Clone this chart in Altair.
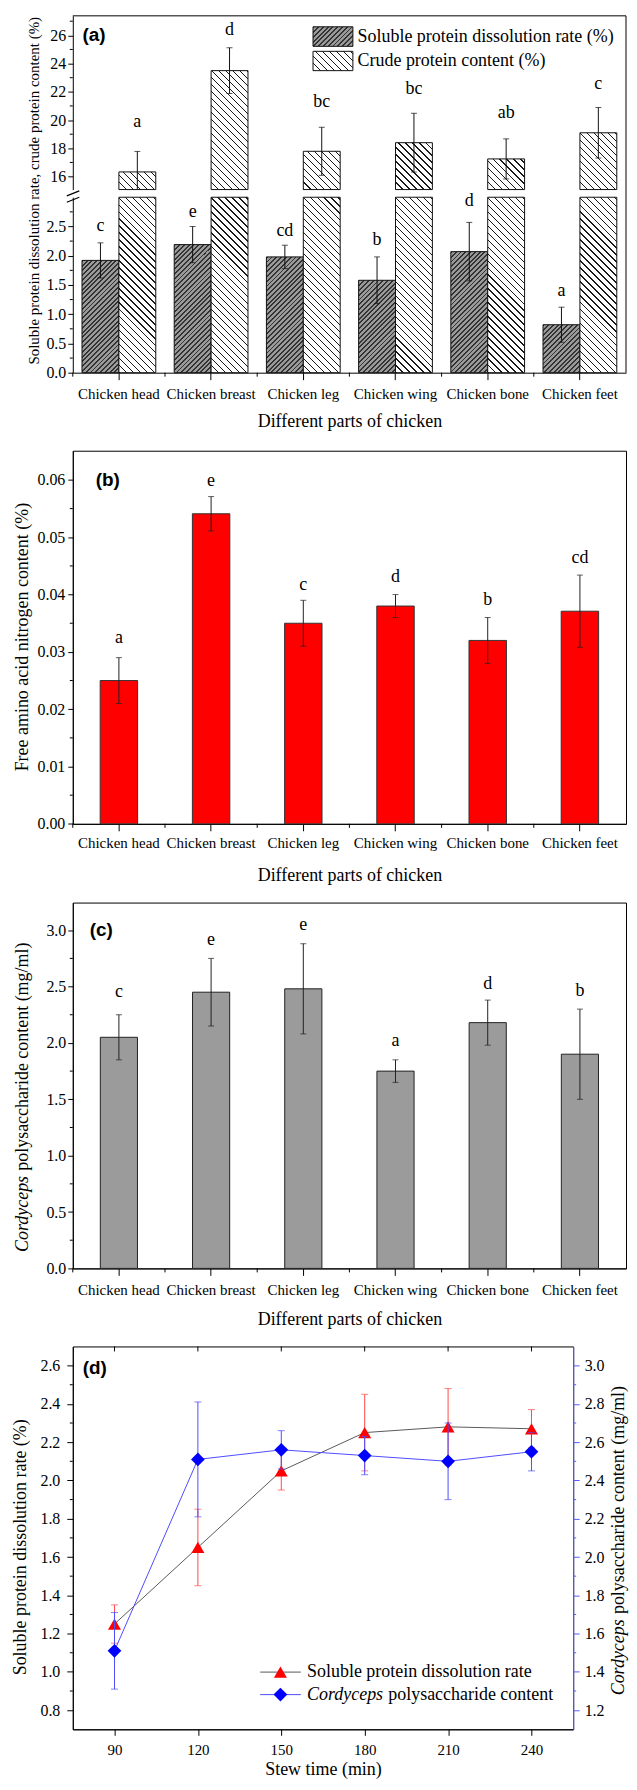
import altair as alt
import pandas as pd

SERIF = "Liberation Serif"
SANS = "Liberation Sans"

# ---------------- data ----------------
parts = ["Chicken head", "Chicken breast", "Chicken leg", "Chicken wing", "Chicken bone", "Chicken feet"]

# (a)
soluble_rate = [1.92, 2.19, 1.98, 1.58, 2.07, 0.82]
soluble_err = [0.30, 0.31, 0.20, 0.40, 0.50, 0.30]
soluble_letters = ["c", "e", "cd", "b", "d", "a"]
soluble_letter_y = [2.50, 2.74, 2.42, 2.27, 2.93, 1.40]
crude_protein = [16.33, 23.50, 17.79, 18.40, 17.25, 19.10]
crude_err = [1.45, 1.62, 1.70, 2.08, 1.42, 1.79]
crude_letters = ["a", "d", "bc", "bc", "ab", "c"]
crude_letter_y = [19.88, 26.37, 21.29, 22.21, 20.52, 22.56]
legend_a = ["Soluble protein dissolution rate (%)", "Crude protein content (%)"]

# (b)
faan = [0.0250, 0.0541, 0.0350, 0.0380, 0.0320, 0.0371]
faan_err = [0.0040, 0.0030, 0.0040, 0.0020, 0.0040, 0.0063]
faan_letters = ["a", "e", "c", "d", "b", "cd"]
faan_letter_y = [0.0324, 0.0598, 0.0417, 0.0431, 0.0391, 0.0464]

# (c)
cps_parts = [2.05, 2.45, 2.48, 1.75, 2.18, 1.90]
cps_parts_err = [0.20, 0.30, 0.40, 0.10, 0.20, 0.40]
cps_letters = ["c", "e", "e", "a", "d", "b"]
cps_letter_y = [2.45, 2.91, 3.05, 2.02, 2.52, 2.46]
cord_title = ["Cordyceps", "polysaccharide content (mg/ml)"]

# (d)
stew_time = [90, 120, 150, 180, 210, 240]
spd_time = [1.25, 1.65, 2.05, 2.25, 2.28, 2.27]
spd_time_err = [0.10, 0.20, 0.10, 0.20, 0.20, 0.10]
cps_time = [1.51, 2.51, 2.56, 2.53, 2.50, 2.55]
cps_time_err = [0.20, 0.30, 0.10, 0.10, 0.20, 0.10]
legend_d = ["Soluble protein dissolution rate", "Cordyceps", "polysaccharide content"]

# tick values
a_upper_ticks = [16, 18, 20, 22, 24, 26]
a_upper_minor = [17, 19, 21, 23, 25, 27]
a_lower_ticks = [0.0, 0.5, 1.0, 1.5, 2.0, 2.5]
a_lower_minor = [0.25, 0.75, 1.25, 1.75, 2.25, 2.75]
b_ticks = [0.0, 0.01, 0.02, 0.03, 0.04, 0.05, 0.06]
b_minor = [0.005, 0.015, 0.025, 0.035, 0.045, 0.055]
c_ticks = [0.0, 0.5, 1.0, 1.5, 2.0, 2.5, 3.0]
c_minor = [0.25, 0.75, 1.25, 1.75, 2.25, 2.75]
d_left_ticks = [0.8, 1.0, 1.2, 1.4, 1.6, 1.8, 2.0, 2.2, 2.4, 2.6]
d_left_minor = [0.9, 1.1, 1.3, 1.5, 1.7, 1.9, 2.1, 2.3, 2.5]
d_right_ticks = [1.2, 1.4, 1.6, 1.8, 2.0, 2.2, 2.4, 2.6, 2.8, 3.0]
d_right_minor = [1.3, 1.5, 1.7, 1.9, 2.1, 2.3, 2.5, 2.7, 2.9]

# ---------------- helpers ----------------
W = 555.0
STEP = W / 6.0
ONE = pd.DataFrame({"k": [0]})
SOL_BASE, SOL_LINE = "#9a9a9a", "#333333"
CRU_BASE, CRU_LINE = "#ffffff", "#1a1a1a"


def hatch(w, h, gap, thick, base, line, forward):
    total = w + h
    k = total / (w * w + h * h)
    if forward:
        x1, y1, x2, y2 = 0.0, 0.0, k * w, k * h
    else:
        x1, y1, x2, y2 = 0.0, 1.0, k * w, 1.0 - k * h
    period = gap / total
    th = thick / total
    stops = []
    o = 0.0
    while o < 1.0:
        b = min(o + th, 1.0)
        stops += [alt.GradientStop(offset=round(o, 6), color=base),
                  alt.GradientStop(offset=round(o, 6), color=line),
                  alt.GradientStop(offset=round(b, 6), color=line),
                  alt.GradientStop(offset=round(b, 6), color=base)]
        o += period
    stops.append(alt.GradientStop(offset=1.0, color=base))
    return alt.LinearGradient(gradient="linear", stops=stops, x1=x1, y1=y1, x2=x2, y2=y2)


def sol_hatch(w, h):
    return hatch(w, h, 4.8, 1.9, SOL_BASE, SOL_LINE, True)


def cru_hatch(w, h):
    return hatch(w, h, 7.0, 1.3, CRU_BASE, CRU_LINE, False)


def label_text(txt, x, y):
    return alt.Chart(pd.DataFrame({"t": [txt]})).mark_text(
        align="left", baseline="middle", font=SANS, fontSize=19, fontWeight="bold"
    ).encode(x=alt.value(x), y=alt.value(y), text="t:N")


def plain_text(txt, x, y, size=18, style="normal", angle=0):
    return alt.Chart(pd.DataFrame({"t": [txt]})).mark_text(
        align="left", baseline="middle", font=SERIF, fontSize=size, fontStyle=style, angle=angle
    ).encode(x=alt.value(x), y=alt.value(y), text="t:N")


def x_band(pi, label_pad, title_y):
    return alt.X("part:N",
                 scale=alt.Scale(domain=parts, paddingInner=pi, paddingOuter=pi / 2),
                 axis=alt.Axis(title="Different parts of chicken", labelAngle=0, labelFontSize=15,
                               labelPadding=label_pad, tickSize=7, labelOverlap=False,
                               titleFontSize=18, titleY=title_y, titleBaseline="middle"))


def minor_rules(values, yfun, x0=0, x1=-3, color="black"):
    return alt.Chart(pd.DataFrame({"v": values})).mark_rule(color=color, strokeWidth=1).encode(
        y=yfun("v"), x=alt.value(x0), x2=alt.value(x1))


# ---------------- panel (a) ----------------
H_A = 358.0
UP_DOM = [15.08, 27.38]
UP_RANGE = [174.3, 0.0]
LOW_DOM = [0.0, 3.0]
LOW_RANGE = [H_A, 182.0]
PPU_UP = (UP_RANGE[0] - UP_RANGE[1]) / (UP_DOM[1] - UP_DOM[0])
PPU_LOW = (LOW_RANGE[0] - LOW_RANGE[1]) / (LOW_DOM[1] - LOW_DOM[0])
PI_A = 0.2
BW_A = 0.5 * (1 - PI_A) * STEP

df_a = pd.DataFrame({
    "part": parts,
    "sol": soluble_rate,
    "sol_lo": [v - e for v, e in zip(soluble_rate, soluble_err)],
    "sol_hi": [v + e for v, e in zip(soluble_rate, soluble_err)],
    "sol_letter": soluble_letters,
    "sol_ly": soluble_letter_y,
    "crude": crude_protein,
    "crude_lo": [v - e for v, e in zip(crude_protein, crude_err)],
    "crude_hi": [v + e for v, e in zip(crude_protein, crude_err)],
    "crude_letter": crude_letters,
    "crude_ly": crude_letter_y,
})

x_a = x_band(PI_A, 6.5, 49)
up_scale = alt.Scale(domain=UP_DOM, range=UP_RANGE, clamp=True, nice=False, zero=False)
up_axis = alt.Axis(orient="left", values=a_upper_ticks, format="d", title=None,
                   labelFontSize=16, tickSize=5, labelPadding=2)
low_scale = alt.Scale(domain=LOW_DOM, range=LOW_RANGE, clamp=True, nice=False, zero=False)
low_axis = alt.Axis(orient="left", values=a_lower_ticks, format=".1f",
                    title="Soluble protein dissolution rate, crude protein content (%)",
                    titleFontSize=15, titleX=-39, titleY=175, titleBaseline="middle",
                    titleAlign="center", titleAngle=270, labelFontSize=16, tickSize=5, labelPadding=2)


def yup(f):
    return alt.Y(f, type="quantitative", scale=up_scale, axis=up_axis)


def ylow(f):
    return alt.Y(f, type="quantitative", scale=low_scale, axis=low_axis)


up_layers = []
for i, p in enumerate(parts):
    h = (crude_protein[i] - UP_DOM[0]) * PPU_UP
    up_layers.append(
        alt.Chart(df_a).transform_filter(alt.datum.part == p)
        .mark_bar(width=BW_A, xOffset=BW_A / 2, fill=cru_hatch(BW_A, h), stroke="#111111", strokeWidth=1)
        .encode(x=x_a, y=yup("crude"), y2=alt.datum(0)))
up_layers += [
    alt.Chart(df_a).mark_rule(xOffset=BW_A / 2, color="#111111", strokeWidth=1)
    .encode(x=x_a, y=yup("crude_lo"), y2="crude_hi"),
    alt.Chart(df_a).mark_tick(xOffset=BW_A / 2, orient="horizontal", size=6, thickness=1, color="#111111")
    .encode(x=x_a, y=yup("crude_hi")),
    alt.Chart(df_a).transform_filter(alt.datum.crude_lo >= UP_DOM[0])
    .mark_tick(xOffset=BW_A / 2, orient="horizontal", size=6, thickness=1, color="#111111")
    .encode(x=x_a, y=yup("crude_lo")),
    alt.Chart(df_a).mark_text(xOffset=BW_A / 2, font=SERIF, fontSize=18, baseline="middle")
    .encode(x=x_a, y=yup("crude_ly"), text="crude_letter:N"),
    minor_rules(a_upper_minor, yup),
    # frame: top and right borders
    alt.Chart(ONE).mark_rule(color="black", strokeWidth=1)
    .encode(x=alt.value(0), x2=alt.value(W), y=alt.value(0)),
    alt.Chart(ONE).mark_rule(color="black", strokeWidth=1)
    .encode(x=alt.value(W), y=alt.value(0), y2=alt.value(H_A)),
    label_text("(a)", 9.7, 19.3),
]
# legend of (a)
LEG_ROWS = [(11.0, 30.6), (35.6, 55.0)]
for j, lab in enumerate(legend_a):
    y0, y1 = LEG_ROWS[j]
    g = sol_hatch(40, y1 - y0) if j == 0 else cru_hatch(40, y1 - y0)
    up_layers.append(
        alt.Chart(pd.DataFrame({"label": [lab]})).mark_rect(fill=g, stroke="#111111", strokeWidth=1)
        .encode(x=alt.value(241), x2=alt.value(281), y=alt.value(y0), y2=alt.value(y1)))
    up_layers.append(
        alt.Chart(pd.DataFrame({"label": [lab]})).mark_text(align="left", baseline="middle", font=SERIF, fontSize=18)
        .encode(x=alt.value(285.7), y=alt.value((y0 + y1) / 2), text="label:N"))

low_layers = []
for i, p in enumerate(parts):
    h = (soluble_rate[i] - LOW_DOM[0]) * PPU_LOW
    low_layers.append(
        alt.Chart(df_a).transform_filter(alt.datum.part == p)
        .mark_bar(width=BW_A, xOffset=-BW_A / 2, fill=sol_hatch(BW_A, h), stroke="#111111", strokeWidth=1)
        .encode(x=x_a, y=ylow("sol"), y2=alt.datum(0)))
low_layers.append(
    alt.Chart(df_a)
    .mark_bar(width=BW_A, xOffset=BW_A / 2, fill=cru_hatch(BW_A, LOW_DOM[1] * PPU_LOW), stroke="#111111", strokeWidth=1)
    .encode(x=x_a, y=ylow("crude"), y2=alt.datum(0)))
low_layers += [
    alt.Chart(df_a).mark_rule(xOffset=-BW_A / 2, color="#111111", strokeWidth=1)
    .encode(x=x_a, y=ylow("sol_lo"), y2="sol_hi"),
    alt.Chart(df_a).mark_tick(xOffset=-BW_A / 2, orient="horizontal", size=6, thickness=1, color="#111111")
    .encode(x=x_a, y=ylow("sol_hi")),
    alt.Chart(df_a).mark_tick(xOffset=-BW_A / 2, orient="horizontal", size=6, thickness=1, color="#111111")
    .encode(x=x_a, y=ylow("sol_lo")),
    alt.Chart(df_a).mark_text(xOffset=-BW_A / 2, font=SERIF, fontSize=18, baseline="middle")
    .encode(x=x_a, y=ylow("sol_ly"), text="sol_letter:N"),
    minor_rules(a_lower_minor, ylow),
    alt.Chart(df_a).mark_rule(xOffset=-STEP / 2, color="black")
    .encode(x=x_a, y=alt.value(H_A), y2=alt.value(H_A + 4)),
    # axis break marks
    alt.Chart(ONE).mark_rule(color="black", strokeWidth=1.2)
    .encode(x=alt.value(-6), x2=alt.value(6.5), y=alt.value(180.6), y2=alt.value(175.6)),
    alt.Chart(ONE).mark_rule(color="black", strokeWidth=1.2)
    .encode(x=alt.value(-6), x2=alt.value(6.5), y=alt.value(187.0), y2=alt.value(182.0)),
]

panel_a = alt.layer(alt.layer(*up_layers), alt.layer(*low_layers)).resolve_scale(
    y="independent").properties(width=W, height=H_A, view=alt.ViewBackground(stroke="transparent"))

# ---------------- panel (b) ----------------
H_B = 374.3
B_DOM = [0.0, 0.0651]
PI_B = 0.594
df_b = pd.DataFrame({
    "part": parts, "v": faan,
    "lo": [v - e for v, e in zip(faan, faan_err)],
    "hi": [v + e for v, e in zip(faan, faan_err)],
    "letter": faan_letters, "ly": faan_letter_y,
})
x_b = x_band(PI_B, 5, 51.7)
b_scale = alt.Scale(domain=B_DOM, nice=False)
b_axis = alt.Axis(values=b_ticks, format=".2f", title="Free amino acid nitrogen content (%)",
                  titleFontSize=18, titleX=-50, titleY=186.5, titleBaseline="middle", titleAngle=270,
                  labelFontSize=16, tickSize=5, labelPadding=3)


def yb(f):
    return alt.Y(f, type="quantitative", scale=b_scale, axis=b_axis)


panel_b = alt.layer(
    alt.Chart(df_b).mark_bar(fill="#ff0000", stroke="#333333", strokeWidth=1).encode(x=x_b, y=yb("v")),
    alt.Chart(df_b).mark_rule(color="#222222").encode(x=x_b, y=yb("lo"), y2="hi"),
    alt.Chart(df_b).mark_tick(orient="horizontal", size=6, thickness=1, color="#222222").encode(x=x_b, y=yb("hi")),
    alt.Chart(df_b).mark_tick(orient="horizontal", size=6, thickness=1, color="#222222").encode(x=x_b, y=yb("lo")),
    alt.Chart(df_b).mark_text(font=SERIF, fontSize=18, baseline="middle").encode(x=x_b, y=yb("ly"), text="letter:N"),
    minor_rules(b_minor, yb),
    alt.Chart(df_b).mark_rule(xOffset=-STEP / 2, color="black").encode(x=x_b, y=alt.value(H_B), y2=alt.value(H_B + 4)),
    label_text("(b)", 23, 29),
).properties(width=W, height=H_B)

# ---------------- panel (c) ----------------
H_C = 367.0
C_DOM = [0.0, 3.245]
PI_C = 0.597
df_c = pd.DataFrame({
    "part": parts, "v": cps_parts,
    "lo": [v - e for v, e in zip(cps_parts, cps_parts_err)],
    "hi": [v + e for v, e in zip(cps_parts, cps_parts_err)],
    "letter": cps_letters, "ly": cps_letter_y,
})
x_c = x_band(PI_C, 7.5, 51.7)
c_scale = alt.Scale(domain=C_DOM, nice=False)
c_axis = alt.Axis(values=c_ticks, format=".1f", title=None, labelFontSize=16, tickSize=5, labelPadding=2)


def yc(f):
    return alt.Y(f, type="quantitative", scale=c_scale, axis=c_axis)


CORD_W = 77.0
panel_c = alt.layer(
    alt.Chart(df_c).mark_bar(fill="#9b9b9b", stroke="#222222", strokeWidth=1).encode(x=x_c, y=yc("v")),
    alt.Chart(df_c).mark_rule(color="#222222").encode(x=x_c, y=yc("lo"), y2="hi"),
    alt.Chart(df_c).mark_tick(orient="horizontal", size=6, thickness=1, color="#222222").encode(x=x_c, y=yc("hi")),
    alt.Chart(df_c).mark_tick(orient="horizontal", size=6, thickness=1, color="#222222").encode(x=x_c, y=yc("lo")),
    alt.Chart(df_c).mark_text(font=SERIF, fontSize=18, baseline="middle").encode(x=x_c, y=yc("ly"), text="letter:N"),
    minor_rules(c_minor, yc),
    alt.Chart(df_c).mark_rule(xOffset=-STEP / 2, color="black").encode(x=x_c, y=alt.value(H_C), y2=alt.value(H_C + 4)),
    label_text("(c)", 17, 27.7),
    plain_text(cord_title[0], -50.3, 350.5, 18, "italic", 270),
    plain_text(cord_title[1], -50.3, 350.5 - CORD_W - 4.5, 18, "normal", 270),
).properties(width=W, height=H_C)

# ---------------- panel (d) ----------------
H_D = 384.1
W_D = 502.0
df_d = pd.DataFrame({
    "time": stew_time,
    "spd": spd_time,
    "spd_lo": [v - e for v, e in zip(spd_time, spd_time_err)],
    "spd_hi": [v + e for v, e in zip(spd_time, spd_time_err)],
    "cps": cps_time,
    "cps_lo": [v - e for v, e in zip(cps_time, cps_time_err)],
    "cps_hi": [v + e for v, e in zip(cps_time, cps_time_err)],
})
x_d = alt.X("time:Q", scale=alt.Scale(domain=[75, 255], nice=False, zero=False),
            axis=alt.Axis(values=stew_time, format="d", title="Stew time (min)", titleFontSize=18,
                          titleY=40, titleBaseline="middle", labelFontSize=15, tickSize=6, labelPadding=7))
l_scale = alt.Scale(domain=[0.7, 2.7], nice=False, zero=False)
l_axis = alt.Axis(orient="left", values=d_left_ticks, format=".1f", title="Soluble protein dissolution rate (%)",
                  titleFontSize=18, titleX=-52, titleY=201, titleBaseline="middle", titleAngle=270,
                  labelFontSize=16, tickSize=6, labelPadding=7)
r_scale = alt.Scale(domain=[1.1, 3.1], nice=False, zero=False)
BLUE_AX = "#5a5aff"
r_axis = alt.Axis(orient="right", values=d_right_ticks, format=".1f", title=None, labelFontSize=16,
                  tickSize=6, labelPadding=5, domainColor=BLUE_AX, tickColor=BLUE_AX)


def yl(f):
    return alt.Y(f, type="quantitative", scale=l_scale, axis=l_axis)


def yr(f):
    return alt.Y(f, type="quantitative", scale=r_scale, axis=r_axis)


RED, RED_ERR, GREY_LINE = "#ff0000", "#ff4a4a", "#5a5a5a"
BLUE, BLUE_LINE = "#0000ff", "#4d4dff"
LEG_LX0, LEG_LX1, LEG_MX, LEG_TX = 188.0, 228.8, 208.3, 235.0
LEG_DY = [326.7, 349.3]

left_group = alt.layer(
    alt.Chart(df_d).mark_line(color=GREY_LINE, strokeWidth=1).encode(x=x_d, y=yl("spd")),
    alt.Chart(df_d).mark_rule(color=RED_ERR, strokeWidth=1).encode(x=x_d, y=yl("spd_lo"), y2="spd_hi"),
    alt.Chart(df_d).mark_tick(orient="horizontal", size=7, thickness=1, color=RED_ERR).encode(x=x_d, y=yl("spd_hi")),
    alt.Chart(df_d).mark_tick(orient="horizontal", size=7, thickness=1, color=RED_ERR).encode(x=x_d, y=yl("spd_lo")),
    alt.Chart(df_d).mark_point(shape="triangle-up", filled=True, color=RED, size=170, opacity=1)
    .encode(x=x_d, y=yl("spd")),
    minor_rules(d_left_minor, yl),
    alt.Chart(df_d).mark_rule(color="black").encode(x=x_d, y=alt.value(0), y2=alt.value(5)),
    label_text("(d)", 10, 21.7),
    # legend
    alt.Chart(ONE).mark_rule(color=GREY_LINE, strokeWidth=1)
    .encode(x=alt.value(LEG_LX0), x2=alt.value(LEG_LX1), y=alt.value(LEG_DY[0])),
    alt.Chart(ONE).mark_point(shape="triangle-up", filled=True, color=RED, size=170, opacity=1)
    .encode(x=alt.value(LEG_MX), y=alt.value(LEG_DY[0])),
    plain_text(legend_d[0], LEG_TX, LEG_DY[0], 18),
    alt.Chart(ONE).mark_rule(color=BLUE_LINE, strokeWidth=1)
    .encode(x=alt.value(LEG_LX0), x2=alt.value(LEG_LX1), y=alt.value(LEG_DY[1])),
    alt.Chart(ONE).mark_point(shape="diamond", filled=True, color=BLUE, size=190, opacity=1)
    .encode(x=alt.value(LEG_MX), y=alt.value(LEG_DY[1])),
    plain_text(legend_d[1], LEG_TX, LEG_DY[1], 18, "italic"),
    plain_text(legend_d[2], LEG_TX + CORD_W + 4.5, LEG_DY[1], 18),
    # right title
    plain_text(cord_title[0], W_D + 46, 350, 18, "italic", 270),
    plain_text(cord_title[1], W_D + 46, 350 - CORD_W - 4.5, 18, "normal", 270),
)

right_group = alt.layer(
    alt.Chart(df_d).mark_line(color=BLUE_LINE, strokeWidth=1).encode(x=x_d, y=yr("cps")),
    alt.Chart(df_d).mark_rule(color=BLUE_LINE, strokeWidth=1).encode(x=x_d, y=yr("cps_lo"), y2="cps_hi"),
    alt.Chart(df_d).mark_tick(orient="horizontal", size=7, thickness=1, color=BLUE_LINE).encode(x=x_d, y=yr("cps_hi")),
    alt.Chart(df_d).mark_tick(orient="horizontal", size=7, thickness=1, color=BLUE_LINE).encode(x=x_d, y=yr("cps_lo")),
    alt.Chart(df_d).mark_point(shape="diamond", filled=True, color=BLUE, size=190, opacity=1)
    .encode(x=x_d, y=yr("cps")),
    minor_rules(d_right_minor, yr, W_D, W_D + 3, BLUE_AX),
)

panel_d = alt.layer(left_group, right_group).resolve_scale(y="independent").properties(width=W_D, height=H_D)

# ---------------- assemble ----------------
chart = alt.vconcat(panel_a, panel_b, panel_c, panel_d, spacing=78.3, bounds="flush").properties(
    padding={"left": 3, "top": 4, "right": 0, "bottom": 0}, background="white"
).configure_axis(
    labelFont=SERIF, titleFont=SERIF, titleFontWeight="normal", labelColor="black", titleColor="black",
    domainColor="black", tickColor="black", domainWidth=1, tickWidth=1, grid=False
).configure_view(stroke="black", strokeWidth=1)

chart.save("out.html", embed_options={"renderer": "svg", "actions": False})
